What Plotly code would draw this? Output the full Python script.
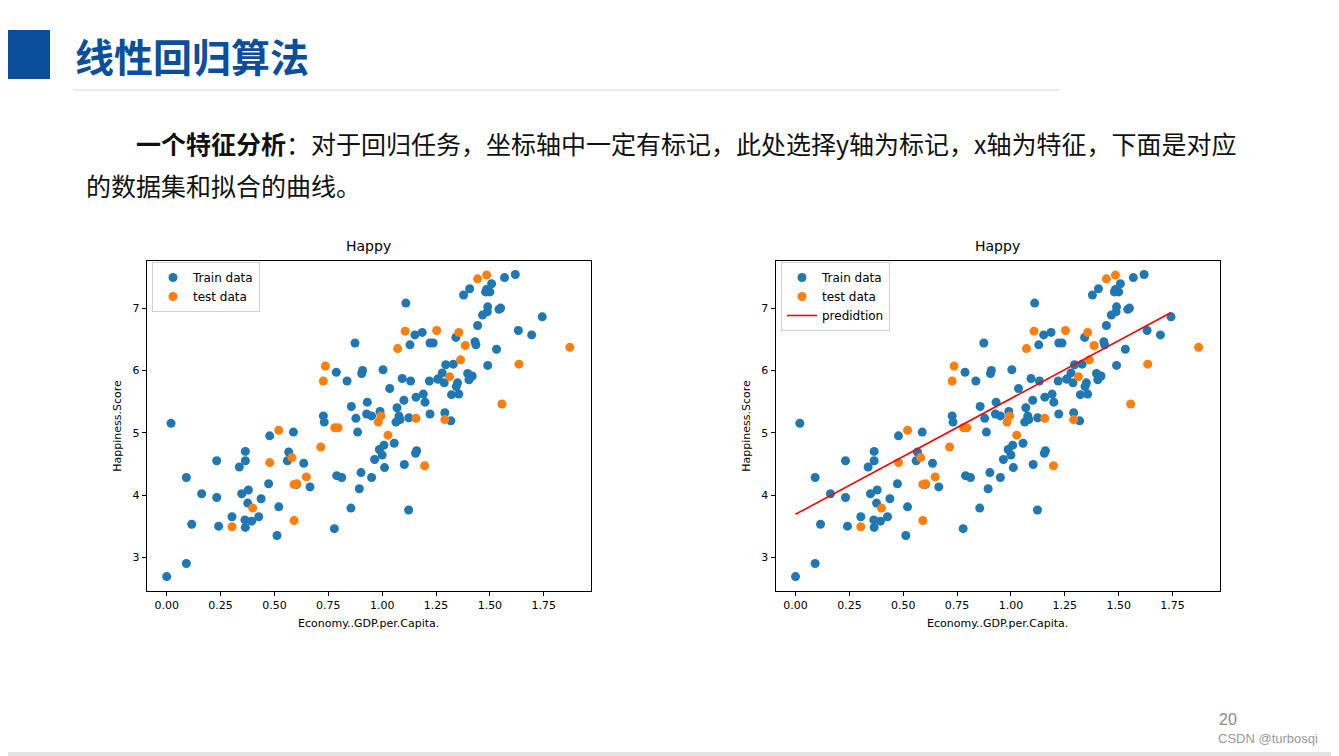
import plotly.graph_objects as go

# ---- data ----
train_x = [0.02, 1.11, 1.152, 1.186, 0.874, 1.129, 1.222, 1.237, 0.787, 0.909, 0.905, 1.004, 0.837, 1.093,
           1.132, 1.219, 1.258, 1.035, 1.101, 1.157, 1.191, 1.199, 0.857, 0.931, 1.069, 0.727, 0.731, 0.878,
           0.928, 0.951, 0.99, 1.078, 1.083, 1.064, 1.124, 1.222,
           1.568, 1.618, 1.508, 1.485, 1.5, 1.48, 1.406, 1.378, 1.49, 1.488, 1.466, 1.542, 1.55, 1.743, 1.443,
           1.342, 1.632, 1.694, 1.431, 1.435, 1.531, 1.295, 1.33, 1.49, 1.279, 1.26, 1.288, 1.397, 1.418, 1.403,
           1.35, 1.344, 1.322, 1.356, 1.291, 1.319,
           0.478, 0.588, 0.365, 0.232, 0.365, 0.337, 0.566, 0.56, 0.091, 0.473, 0.162, 0.232, 0.348, 0.379,
           0.376, 0.438, 0.52, 0.303, 0.363, 0.394, 0.427, 0.365, 0.116, 0.241, 0.512, 0.091, 0.0,
           0.886, 0.636, 0.603, 0.665, 0.789, 0.812, 0.902, 0.951, 0.894, 0.855, 0.778, 0.987, 1.008, 1.0,
           0.965, 1.056, 1.011, 1.103, 1.16, 1.155, 1.123]
train_y = [5.15, 7.08, 6.57, 6.61, 6.44, 6.41, 6.44, 6.44, 5.97, 6.0, 5.95, 6.01, 5.83, 5.87,
           5.83, 5.83, 5.86, 5.71, 5.52, 5.57, 5.62, 5.49, 5.42, 5.49, 5.40, 5.27, 5.17, 5.23,
           5.30, 5.27, 5.34, 5.27, 5.21, 5.17, 5.24, 5.30,
           7.49, 7.54, 7.39, 7.30, 7.26, 7.26, 7.31, 7.21, 7.02, 6.94, 6.89, 6.98, 7.0, 6.86, 6.72,
           6.53, 6.64, 6.57, 6.46, 6.41, 6.34, 6.09, 6.10, 6.08, 5.96, 5.86, 5.80, 5.95, 5.91, 5.85,
           5.80, 5.74, 5.61, 5.62, 5.32, 5.19,
           4.95, 5.01, 4.70, 4.55, 4.55, 4.45, 4.69, 4.55, 4.28, 4.18, 4.02, 3.96, 4.02, 4.08,
           3.87, 3.94, 3.81, 3.65, 3.60, 3.58, 3.65, 3.48, 3.53, 3.50, 3.35, 2.90, 2.69,
           5.01, 4.51, 4.17, 4.13, 4.31, 4.28, 4.36, 4.28, 4.10, 3.79, 3.46, 4.73, 4.80, 4.64,
           4.57, 4.83, 4.44, 4.49, 4.71, 4.67, 3.76]

test_x = [0.52, 1.107, 1.253, 1.072, 0.736, 0.727, 0.994, 0.982, 1.157, 0.78, 0.795, 1.443, 1.485, 1.356,
          1.386, 1.871, 1.364, 1.635, 1.313, 1.556, 1.291, 0.478, 0.581, 0.591, 0.399, 0.303, 0.591, 1.027,
          0.715, 0.648, 0.603, 1.197]
test_y = [5.04, 6.63, 6.64, 6.35, 6.07, 5.83, 5.27, 5.17, 5.23, 5.08, 5.08, 7.47, 7.53, 6.61,
          6.40, 6.37, 6.17, 6.10, 5.90, 5.46, 5.21, 4.52, 4.60, 4.17, 3.79, 3.49, 3.59, 4.96,
          4.77, 4.29, 4.18, 4.47]

pred_x = [0.0, 1.743]
pred_y = [3.69, 6.93]

x_ticks = [0, 0.25, 0.5, 0.75, 1.0, 1.25, 1.5, 1.75]
x_tick_labels = ["0.00", "0.25", "0.50", "0.75", "1.00", "1.25", "1.50", "1.75"]
y_ticks = [3, 4, 5, 6, 7]
y_tick_labels = ["3", "4", "5", "6", "7"]

# page body has an 8px margin: figure occupies screen [8, 1339] x [8, 756]
OFF = 8
W, H = 1339 - OFF, 756 - OFF
BLUE = "#1f77b4"
ORANGE = "#ff7f0e"
SLIDE_BLUE = "#0b4f9c"


def px(x):
    return (x - OFF) / W


def py(y):
    return 1 - (y - OFF) / H


fig = go.Figure()
msize = 9

# left chart
fig.add_trace(go.Scatter(x=train_x, y=train_y, mode="markers", name="Train data",
                         marker=dict(color=BLUE, size=msize), xaxis="x", yaxis="y", legend="legend"))
fig.add_trace(go.Scatter(x=test_x, y=test_y, mode="markers", name="test data",
                         marker=dict(color=ORANGE, size=msize), xaxis="x", yaxis="y", legend="legend"))
# right chart
fig.add_trace(go.Scatter(x=train_x, y=train_y, mode="markers", name="Train data",
                         marker=dict(color=BLUE, size=msize), xaxis="x2", yaxis="y2", legend="legend2"))
fig.add_trace(go.Scatter(x=test_x, y=test_y, mode="markers", name="test data",
                         marker=dict(color=ORANGE, size=msize), xaxis="x2", yaxis="y2", legend="legend2"))
fig.add_trace(go.Scatter(x=pred_x, y=pred_y, mode="lines", name="predidtion",
                         line=dict(color="red", width=1.6), xaxis="x2", yaxis="y2", legend="legend2"))

axis_font = dict(family="DejaVu Sans", size=11, color="#000")
XR = [-0.093, 1.968]
YR = [2.459, 7.764]

common_x = dict(range=XR, tickvals=x_ticks, ticktext=x_tick_labels, showgrid=False, zeroline=False,
                showline=True, mirror=True, linecolor="#000", linewidth=1, ticks="outside", ticklen=4,
                tickcolor="#000", tickfont=axis_font, automargin=False, fixedrange=True)
common_y = dict(range=YR, tickvals=y_ticks, ticktext=y_tick_labels, showgrid=False, zeroline=False,
                showline=True, mirror=True, linecolor="#000", linewidth=1, ticks="outside", ticklen=4,
                tickcolor="#000", tickfont=axis_font, automargin=False, fixedrange=True)

L1, R1 = 146.7, 590.7
L2, R2 = 775.5, 1219.5
T, B = 260.5, 591

leg_font = dict(family="DejaVu Sans", size=12, color="#000")
fig.update_layout(
    width=W, height=H, margin=dict(l=0, r=0, t=0, b=0),
    paper_bgcolor="white", plot_bgcolor="white", showlegend=True,
    xaxis=dict(domain=[px(L1), px(R1)], anchor="y", **common_x),
    yaxis=dict(domain=[py(B), py(T)], anchor="x", **common_y),
    xaxis2=dict(domain=[px(L2), px(R2)], anchor="y2", **common_x),
    yaxis2=dict(domain=[py(B), py(T)], anchor="x2", **common_y),
    legend=dict(x=px(152), y=py(262), xanchor="left", yanchor="top", bgcolor="white",
                bordercolor="#d0d0d0", borderwidth=1, font=leg_font, tracegroupgap=0, itemwidth=30),
    legend2=dict(x=px(781), y=py(262), xanchor="left", yanchor="top", bgcolor="white",
                 bordercolor="#d0d0d0", borderwidth=1, font=leg_font, tracegroupgap=0, itemwidth=30),
)

shapes = [
    # bottom grey band of the slide
    dict(type="rect", xref="paper", yref="paper", x0=0, x1=1, y0=0, y1=py(752),
         fillcolor="#e3e3e3", line=dict(width=0)),
    # blue block
    dict(type="rect", xref="paper", yref="paper", x0=px(OFF), x1=px(50), y0=py(79), y1=py(30),
         fillcolor=SLIDE_BLUE, line=dict(width=0)),
    # separator under title
    dict(type="line", xref="paper", yref="paper", x0=px(73), x1=px(1060), y0=py(90), y1=py(90),
         line=dict(color="#d9d9d9", width=1)),
]
fig.update_layout(shapes=shapes)

cjk = "Noto Sans CJK SC"
annotations = [
    dict(text="<b>线性回归算法</b>", x=px(73), y=py(55), xanchor="left", yanchor="middle",
         font=dict(family=cjk, size=39, color=SLIDE_BLUE)),
    dict(text="<b>一个特征分析</b>：对于回归任务，坐标轴中一定有标记，此处选择y轴为标记，x轴为特征，下面是对应",
         x=px(134), y=py(143), xanchor="left", yanchor="middle",
         font=dict(family=cjk, size=25, color="#111")),
    dict(text="的数据集和拟合的曲线。", x=px(84), y=py(185), xanchor="left", yanchor="middle",
         font=dict(family=cjk, size=25, color="#111")),
    dict(text="Happy", x=px((L1 + R1) / 2), y=py(246), xanchor="center", yanchor="middle",
         font=dict(family="DejaVu Sans", size=14, color="#000")),
    dict(text="Happy", x=px((L2 + R2) / 2), y=py(246), xanchor="center", yanchor="middle",
         font=dict(family="DejaVu Sans", size=14, color="#000")),
    dict(text="Economy..GDP.per.Capita.", x=px((L1 + R1) / 2), y=py(623), xanchor="center", yanchor="middle",
         font=axis_font),
    dict(text="Economy..GDP.per.Capita.", x=px((L2 + R2) / 2), y=py(623), xanchor="center", yanchor="middle",
         font=axis_font),
    dict(text="Happiness.Score", x=px(118), y=py((T + B) / 2), xanchor="center", yanchor="middle",
         textangle=-90, font=axis_font),
    dict(text="Happiness.Score", x=px(747), y=py((T + B) / 2), xanchor="center", yanchor="middle",
         textangle=-90, font=axis_font),
    dict(text="20", x=px(1228), y=py(719), xanchor="center", yanchor="middle",
         font=dict(family="Liberation Sans", size=16, color="#8a8a8a")),
    dict(text="CSDN @turbosqi", x=px(1268), y=py(738), xanchor="center", yanchor="middle",
         font=dict(family="Liberation Sans", size=13, color="#999")),
]
for a in annotations:
    a.update(xref="paper", yref="paper", showarrow=False)
fig.update_layout(annotations=annotations)

fig.write_html("out.html")
